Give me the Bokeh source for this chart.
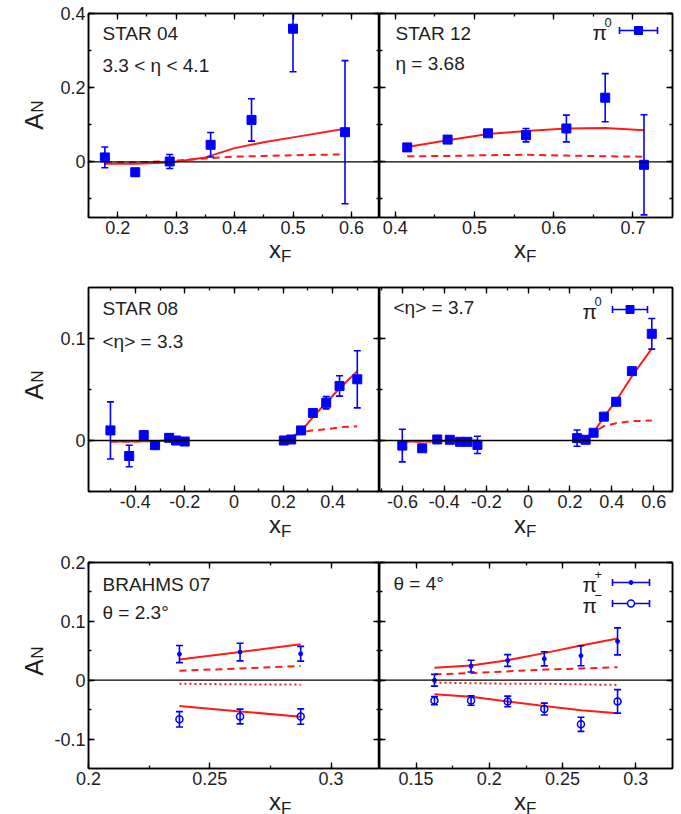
import math
from bokeh.plotting import figure
from bokeh.layouts import column, row
from bokeh.models import (Range1d, SingleIntervalTicker, LinearAxis, Span, Label,
                          Arrow, TeeHead, BoxAnnotation, CustomJSTickFormatter)
from bokeh.embed import file_html
from bokeh.resources import INLINE

# ---------------- data ----------------
# STAR 2004, pi0, 3.3 < eta < 4.1
star04_xf = [0.178, 0.230, 0.289, 0.359, 0.429, 0.500, 0.589]
star04_an = [0.012, -0.028, 0.001, 0.046, 0.113, 0.359, 0.080]
star04_err = [0.028, 0.010, 0.019, 0.033, 0.057, 0.116, 0.193]
star04_th_xf = [0.178, 0.230, 0.289, 0.350, 0.400, 0.450, 0.500, 0.589]
star04_full = [-0.005, -0.005, -0.002, 0.012, 0.037, 0.053, 0.066, 0.089]
star04_part = [-0.002, -0.002, 0.002, 0.009, 0.014, 0.016, 0.018, 0.020]

# STAR 2012, pi0, eta = 3.68
star12_xf = [0.415, 0.466, 0.517, 0.565, 0.616, 0.665, 0.714]
star12_an = [0.039, 0.060, 0.077, 0.072, 0.090, 0.173, -0.008]
star12_err = [0.005, 0.005, 0.008, 0.018, 0.036, 0.065, 0.135]
star12_full = [0.040, 0.058, 0.075, 0.083, 0.090, 0.091, 0.085]
star12_part = [0.015, 0.016, 0.018, 0.019, 0.017, 0.015, 0.014]

# STAR 2008, pi0, <eta> = 3.3
star08_xf = [-0.501, -0.425, -0.366, -0.320, -0.263, -0.235, -0.200,
             0.202, 0.232, 0.272, 0.320, 0.374, 0.428, 0.500]
star08_an = [0.0099, -0.0152, 0.0053, -0.0046, 0.0026, 0.0000, -0.0010,
             0.0000, 0.0010, 0.0099, 0.0270, 0.0370, 0.0535, 0.0600]
star08_err = [0.028, 0.0105, 0.004, 0.002, 0.002, 0.002, 0.002,
              0.002, 0.002, 0.002, 0.002, 0.006, 0.010, 0.028]
star08_th_neg_xf = [-0.501, -0.425, -0.366, -0.320, -0.263, -0.200]
star08_full_neg = [-0.001, -0.001, -0.0008, -0.0005, -0.0003, 0.0]
star08_part_neg = [-0.001, -0.001, -0.0008, -0.0005, -0.0003, 0.0]
star08_th_pos_xf = [0.202, 0.232, 0.272, 0.320, 0.374, 0.428, 0.500]
star08_full_pos = [0.001, 0.003, 0.009, 0.023, 0.037, 0.051, 0.068]
star08_part_pos = [0.001, 0.003, 0.008, 0.010, 0.011, 0.013, 0.014]

# STAR 2008, pi0, <eta> = 3.7
star37_xf = [-0.601, -0.506, -0.434, -0.374, -0.325, -0.290, -0.242,
             0.234, 0.275, 0.313, 0.362, 0.421, 0.496, 0.591]
star37_an = [-0.0050, -0.0076, 0.0010, 0.0007, -0.0013, -0.0013, -0.0043,
             0.0023, 0.0007, 0.0076, 0.0234, 0.0380, 0.0680, 0.1046]
star37_err = [0.016, 0.003, 0.002, 0.002, 0.002, 0.002, 0.0085,
              0.008, 0.002, 0.002, 0.002, 0.002, 0.003, 0.015]
star37_th_neg_xf = [-0.601, -0.506, -0.434, -0.374, -0.290, -0.242]
star37_full_neg = [-0.001, -0.001, -0.0008, -0.0005, -0.0003, -0.0002]
star37_part_neg = [-0.001, -0.001, -0.0008, -0.0005, -0.0003, -0.0002]
star37_th_pos_xf = [0.234, 0.275, 0.313, 0.362, 0.421, 0.496, 0.591]
star37_full_pos = [0.002, -0.001, 0.008, 0.023, 0.039, 0.063, 0.090]
star37_part_pos = [0.006, 0.004, 0.008, 0.014, 0.017, 0.019, 0.0195]

# BRAHMS 2007, theta = 2.3 deg
br23_xf = [0.2375, 0.2625, 0.2875]
br23_pip = [0.0444, 0.0479, 0.0450]
br23_pip_err = [0.0145, 0.0150, 0.0125]
br23_pim = [-0.0664, -0.0617, -0.0617]
br23_pim_err = [0.0130, 0.0125, 0.0130]
br23_pip_full = [0.035, 0.048, 0.061]
br23_pip_part = [0.016, 0.020, 0.024]
br23_pim_part = [-0.006, -0.007, -0.0075]
br23_pim_full = [-0.044, -0.053, -0.062]

# BRAHMS 2007, theta = 4 deg
br4_xf = [0.1625, 0.1875, 0.2125, 0.2375, 0.2625, 0.2875]
br4_pip = [0.0000, 0.0240, 0.0335, 0.0364, 0.0415, 0.0660]
br4_pip_err = [0.010, 0.010, 0.010, 0.012, 0.017, 0.023]
br4_pim = [-0.0346, -0.0346, -0.0360, -0.0490, -0.0750, -0.0360]
br4_pim_err = [0.007, 0.008, 0.009, 0.010, 0.012, 0.020]
br4_pip_full = [0.021, 0.025, 0.034, 0.046, 0.059, 0.071]
br4_pip_part = [0.010, 0.012, 0.015, 0.018, 0.020, 0.022]
br4_pim_part = [-0.004, -0.005, -0.006, -0.006, -0.007, -0.008]
br4_pim_full = [-0.024, -0.028, -0.036, -0.044, -0.051, -0.056]

# ---------------- styling ----------------
BLUE = "#0000ff"
RED = "#ff1a1a"
TXT = "#1e1e1e"
FONT = "Liberation Sans"
DASH = "7 5"
DOT = "2 3"

num_fmt = CustomJSTickFormatter(code="return String(Math.round(tick * 1000) / 1000);")
blank_fmt = CustomJSTickFormatter(code="return '';")


def style_axis(ax, show_labels):
    ax.major_tick_in = 6
    ax.major_tick_out = 0
    ax.minor_tick_in = 3
    ax.minor_tick_out = 0
    ax.axis_line_width = 1.5
    ax.axis_line_color = "black"
    ax.major_tick_line_width = 1.3
    ax.minor_tick_line_width = 1.3
    ax.axis_label = None
    if show_labels:
        ax.formatter = num_fmt
        ax.major_label_text_font = FONT
        ax.major_label_text_font_size = "18px"
        ax.major_label_text_color = TXT
        ax.major_label_standoff = 3
    else:
        ax.formatter = blank_fmt
        ax.major_label_text_font_size = "0px"
        ax.major_label_standoff = 0


def panel(xr, yr, xstep, ystep, width, height, border, ylabels):
    left, right, top, bottom = border
    p = figure(width=width, height=height, x_range=Range1d(*xr), y_range=Range1d(*yr),
               output_backend="svg", toolbar_location=None,
               x_axis_type=None, y_axis_type=None,
               min_border_left=left, min_border_right=right,
               min_border_top=top, min_border_bottom=bottom)
    xt = SingleIntervalTicker(interval=xstep, num_minor_ticks=2)
    yt = SingleIntervalTicker(interval=ystep, num_minor_ticks=2)
    for side, tk, lab in (("below", xt, True), ("above", xt, False),
                          ("left", yt, ylabels), ("right", yt, False)):
        ax = LinearAxis(ticker=tk)
        style_axis(ax, lab)
        p.add_layout(ax, side)
    p.outline_line_color = "black"
    p.outline_line_width = 1.5
    p.background_fill_color = "white"
    p.border_fill_color = "white"
    p.add_layout(Span(location=0, dimension="width", line_color="black", line_width=1.3))
    # frame size in pixels, kept for placing texts relative to the frame
    p.tags = [width - left - right, height - top - bottom]
    return p


def strip(width, height):
    """Blank figure whose whole area is frame; it carries axis titles."""
    s = figure(width=width, height=height, x_range=Range1d(0, 1), y_range=Range1d(0, 1),
               output_backend="svg", toolbar_location=None,
               x_axis_type=None, y_axis_type=None,
               min_border_left=0, min_border_right=0, min_border_top=0, min_border_bottom=0)
    s.outline_line_color = None
    s.background_fill_color = "white"
    s.border_fill_color = "white"
    s.tags = [width, height]
    return s


def text(p, x, y_top, s, size, **kw):
    """Text placed in pixels measured from the frame's top-left corner."""
    fh = p.tags[1]
    opts = dict(text_font=FONT, text_color=TXT, text_baseline="middle", text_align="left")
    opts.update(kw)
    p.add_layout(Label(x=x, y=fh - y_top, x_units="screen", y_units="screen",
                       text=s, text_font_size=f"{size}px", **opts))


def xf_title(s, cx, base):
    text(s, cx - 7, base, "x", 24, text_baseline="alphabetic")
    text(s, cx + 5, base + 7, "F", 17, text_baseline="alphabetic")


def an_title(s, cy):
    text(s, 33, cy, "A", 25, angle=math.pi / 2, text_align="center")
    text(s, 37, cy - 15, "N", 17, angle=math.pi / 2, text_align="center")


def curve(p, x, y, dash="solid"):
    p.line(x, y, line_color=RED, line_width=2, line_dash=dash)


def points(p, x, y, e, kind):
    lo = [a - b for a, b in zip(y, e)]
    hi = [a + b for a, b in zip(y, e)]
    p.segment(x0=x, y0=lo, x1=x, y1=hi, line_color=BLUE, line_width=1.6)
    p.scatter(x=x + x, y=lo + hi, marker="dash", size=7, line_color=BLUE, line_width=1.6)
    if kind == "square":
        p.scatter(x=x, y=y, marker="square", size=9, fill_color=BLUE, line_color=BLUE)
    elif kind == "dot":
        p.scatter(x=x, y=y, marker="circle", size=4, fill_color=BLUE, line_color=BLUE)
    else:
        p.scatter(x=x, y=y, marker="circle", size=7, fill_color=None,
                  line_color=BLUE, line_width=1.5)


def key(p, sup, tx, ty, x0, x1, kind):
    """Key entry: pion symbol followed by a sample error bar, in frame pixels."""
    fh = p.tags[1]
    text(p, tx, ty + 2, "\u03c0", 21)
    text(p, tx + 12, ty - 8, sup, 13)
    y = fh - ty
    p.add_layout(Arrow(x_start=x0, y_start=y, x_end=x1, y_end=y,
                       start_units="screen", end_units="screen",
                       line_color=BLUE, line_width=1.6,
                       start=TeeHead(size=7, line_color=BLUE, line_width=1.6),
                       end=TeeHead(size=7, line_color=BLUE, line_width=1.6)))
    xm = (x0 + x1) / 2
    if kind == "square":
        box = dict(left=xm - 4, right=xm + 4, bottom=y - 4, top=y + 4,
                   fill_color=BLUE, fill_alpha=1, line_color=BLUE)
    elif kind == "dot":
        box = dict(left=xm - 2, right=xm + 2, bottom=y - 2, top=y + 2,
                   fill_color=BLUE, fill_alpha=1, line_color=BLUE, border_radius=2)
    else:
        box = dict(left=xm - 3.5, right=xm + 3.5, bottom=y - 3.5, top=y + 3.5,
                   fill_color="white", fill_alpha=1, line_color=BLUE, line_width=1.5,
                   border_radius=4)
    p.add_layout(BoxAnnotation(left_units="screen", right_units="screen",
                               bottom_units="screen", top_units="screen",
                               line_alpha=1, **box))


AW = 46                  # strip holding the A_N title
LW, RW = 379 - AW, 302   # left / right panel widths
LB = (88 - AW, 0)
RB = (0, 9)
TS = 19  # panel caption size


def assemble(pl, pr, total_h, an_y, xf_base):
    strip_h = total_h - pl.height
    an = strip(AW, total_h)
    an_title(an, an_y)
    sl = strip(LW, strip_h)
    xf_title(sl, LB[0] + pl.tags[0] / 2, xf_base)
    sr = strip(RW, strip_h)
    xf_title(sr, pr.tags[0] / 2 - 5, xf_base)
    return row(an, column(pl, sl), column(pr, sr))


# ---------------- row 1 ----------------
H1, T1, B1 = 242, 13, 25
p1 = panel((0.15, 0.648), (-0.15, 0.4), 0.1, 0.2, LW, H1, LB + (T1, B1), True)
curve(p1, star04_th_xf, star04_full)
curve(p1, star04_th_xf, star04_part, DASH)
points(p1, star04_xf, star04_an, star04_err, "square")
text(p1, 14, 20, "STAR 04", TS)
text(p1, 14, 52, "3.3 < \u03b7 < 4.1", TS)

p2 = panel((0.38, 0.75), (-0.15, 0.4), 0.1, 0.2, RW, H1, RB + (T1, B1), False)
curve(p2, star12_xf, star12_full)
curve(p2, star12_xf, star12_part, DASH)
points(p2, star12_xf, star12_an, star12_err, "square")
text(p2, 16, 20, "STAR 12", TS)
text(p2, 16, 50, "\u03b7 = 3.68", TS)
key(p2, "0", 213, 17, 240, 278, "square")

# ---------------- row 2 ----------------
H2, T2, B2 = 241, 12, 25
p3 = panel((-0.59, 0.59), (-0.05, 0.15), 0.2, 0.1, LW, H2, LB + (T2, B2), True)
curve(p3, star08_th_neg_xf, star08_full_neg)
curve(p3, star08_th_neg_xf, star08_part_neg, DASH)
curve(p3, star08_th_pos_xf, star08_full_pos)
curve(p3, star08_th_pos_xf, star08_part_pos, DASH)
points(p3, star08_xf, star08_an, star08_err, "square")
text(p3, 14, 21, "STAR 08", TS)
text(p3, 14, 54, "<\u03b7> = 3.3", TS)

p4 = panel((-0.71, 0.69), (-0.05, 0.15), 0.2, 0.1, RW, H2, RB + (T2, B2), False)
curve(p4, star37_th_neg_xf, star37_full_neg)
curve(p4, star37_th_neg_xf, star37_part_neg, DASH)
curve(p4, star37_th_pos_xf, star37_full_pos)
curve(p4, star37_th_pos_xf, star37_part_pos, DASH)
points(p4, star37_xf, star37_an, star37_err, "square")
text(p4, 14, 20, "<\u03b7> = 3.7", TS)
key(p4, "0", 203, 22, 233, 268, "square")

# ---------------- row 3 ----------------
H3, T3, B3 = 247, 17, 24
p5 = panel((0.2, 0.32), (-0.15, 0.2), 0.05, 0.1, LW, H3, LB + (T3, B3), True)
curve(p5, br23_xf, br23_pip_full)
curve(p5, br23_xf, br23_pip_part, DASH)
curve(p5, br23_xf, br23_pim_part, DOT)
curve(p5, br23_xf, br23_pim_full)
points(p5, br23_xf, br23_pip, br23_pip_err, "dot")
points(p5, br23_xf, br23_pim, br23_pim_err, "circle")
text(p5, 14, 22, "BRAHMS 07", TS)
text(p5, 14, 50, "\u03b8 = 2.3\u00b0", TS)

p6 = panel((0.125, 0.325), (-0.15, 0.2), 0.05, 0.1, RW, H3, RB + (T3, B3), False)
curve(p6, br4_xf, br4_pip_full)
curve(p6, br4_xf, br4_pip_part, DASH)
curve(p6, br4_xf, br4_pim_part, DOT)
curve(p6, br4_xf, br4_pim_full)
points(p6, br4_xf, br4_pip, br4_pip_err, "dot")
points(p6, br4_xf, br4_pim, br4_pim_err, "circle")
text(p6, 14, 21, "\u03b8 = 4\u00b0", TS)
key(p6, "+", 203, 20, 233, 270, "dot")
key(p6, "\u2212", 203, 41, 233, 270, "circle")

layout = column(
    assemble(p1, p2, 275, 121, 7),
    assemble(p3, p4, 270, 116, 8),
    assemble(p5, p6, 269, 122, 9),
)
open("out.html", "w").write(file_html(layout, INLINE))
